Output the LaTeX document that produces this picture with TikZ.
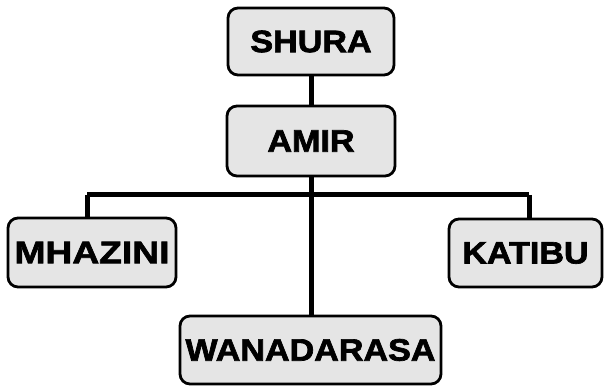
\documentclass[tikz,border=0pt]{standalone}
\usepackage{fontspec}
\newfontfamily\boxfont{Liberation Sans}[FakeStretch=1.1, BoldFeatures={FakeBold=2.2}]
\usepackage{tikz}

\tikzset{
  office/.style={draw, line width=2.8pt, rounded corners=10pt, fill=gray!20,
    inner sep=0pt, font=\boxfont\bfseries\fontsize{31}{37}\selectfont},
  conn/.style={line width=5pt}
}

\begin{document}
\begin{tikzpicture}[x=1pt, y=1pt]
%\draw[help lines] (0,0) grid[step=50] (611,386);
\useasboundingbox (0,0) rectangle (611,386);

 \coordinate (lb) at (87,191);
 \coordinate (rb) at (529,191);
 \coordinate (mid) at (311,191);

 \node[office, minimum width=166pt, minimum height=67pt] (shura) at (311,344.5) {SHURA};
 \node[office, minimum width=168pt, minimum height=70pt] (amir) at (311,245) {AMIR};
 \node[office, minimum width=168pt, minimum height=69pt] (mhazini) at (92,133.5) {\addfontfeature{FakeStretch=1.2}MHAZINI};
 \node[office, minimum width=153pt, minimum height=68pt] (katibu) at (525.5,133) {KATIBU};
 \node[office, minimum width=261pt, minimum height=68pt] (wanadarasa) at (310.5,36) {WANADARASA};

 % connectors
 \draw[conn] (shura) -- (amir);
 \draw[conn] (amir.south) -- (mid |- wanadarasa.north);
 \draw[conn] (lb) -- (rb);
 \draw[conn] (lb) -- (lb |- mhazini.north);
 \draw[conn] (rb) -- (rb |- katibu.north);

\end{tikzpicture}
\end{document}
